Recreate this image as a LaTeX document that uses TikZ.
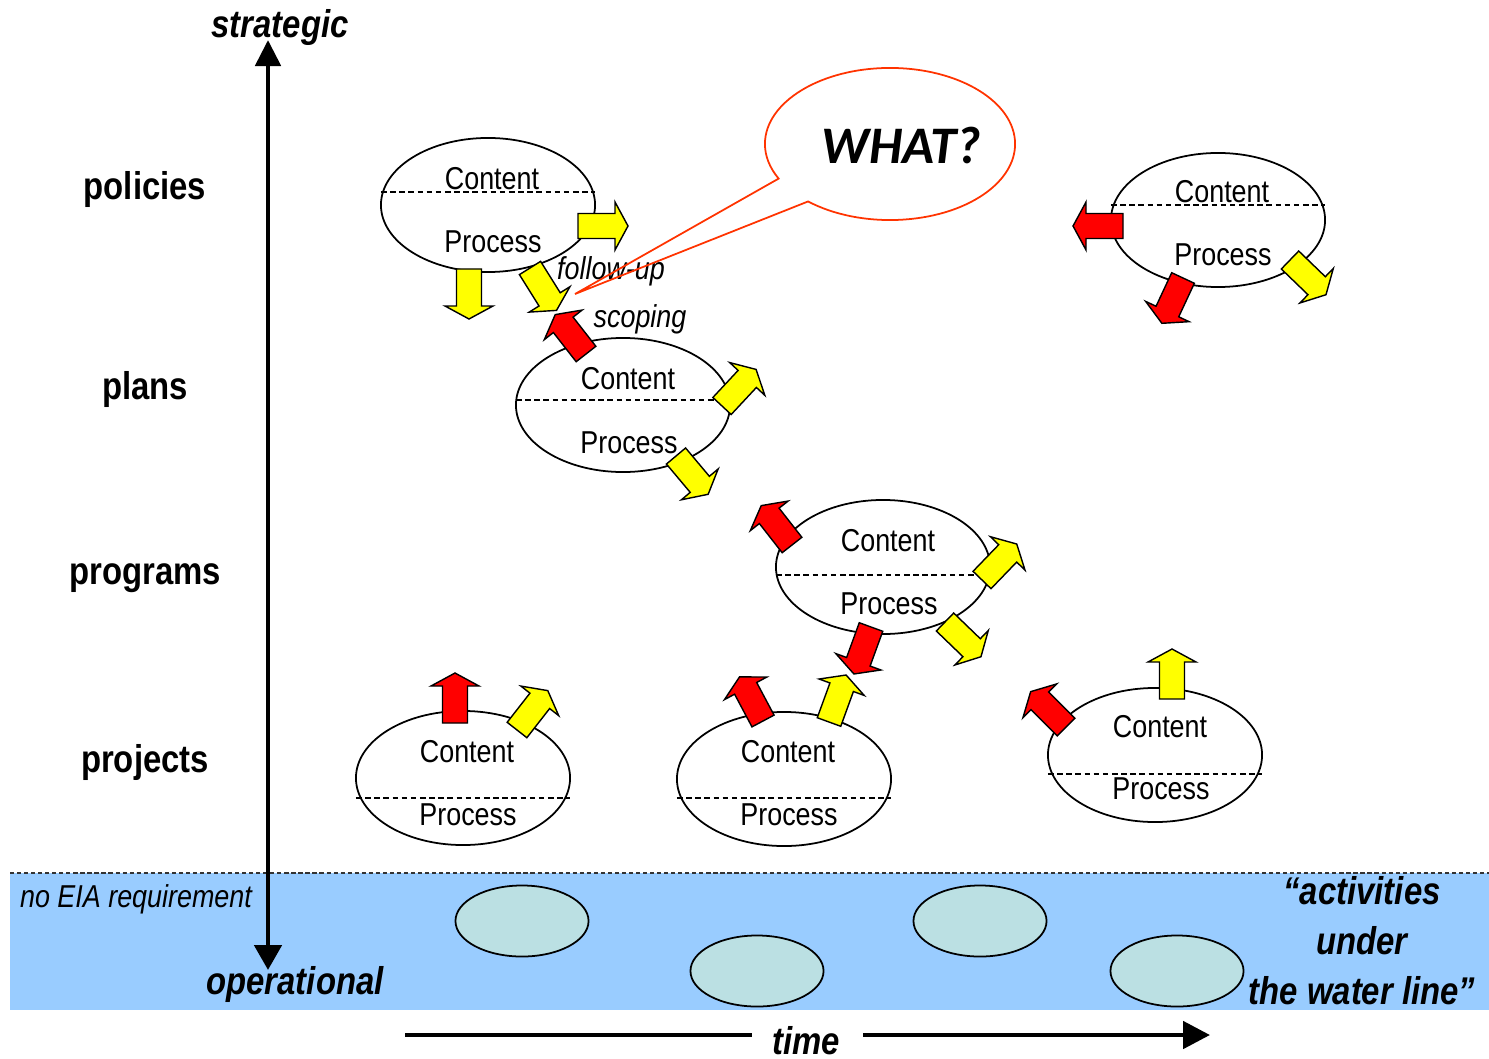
\documentclass[tikz,border=0pt]{standalone}
\usepackage{fontspec}
\setmainfont{Liberation Sans}[FakeStretch=0.85]
\newfontfamily\whatfont{Carlito}
\usetikzlibrary{arrows.meta,calc,shapes.geometric,shapes.callouts}

\definecolor{arrowyellow}{RGB}{255,255,0}
\definecolor{arrowred}{RGB}{255,0,0}
\definecolor{waterblue}{RGB}{153,204,255}
\definecolor{stoneteal}{RGB}{187,224,227}
\definecolor{bubblered}{RGB}{255,51,0}

\tikzset{
  cpellipse/.style={ellipse, draw, line width=0.5pt, fill=white,
    minimum width=2.14cm, minimum height=1.34cm, inner sep=0pt, outer sep=0pt},
  cpdash/.style={line width=0.55pt, dash pattern=on 1.6pt off 1pt},
  cptext/.style={anchor=base, inner sep=0pt, font=\fontsize{9}{11}\selectfont},
  lvltext/.style={inner sep=0pt, font=\fontsize{11}{13}\selectfont\bfseries},
  axtext/.style={inner sep=0pt, font=\fontsize{11}{13}\selectfont\bfseries\itshape},
  notetext/.style={inner sep=0pt, font=\fontsize{9}{11}\selectfont\itshape},
  axisline/.style={line width=1.4pt},
  stone/.style={ellipse, draw, line width=0.5pt, fill=stoneteal,
    minimum width=1.33cm, minimum height=0.71cm, inner sep=0pt},
  yarrow/.pic={\draw[line width=0.4pt, fill=arrowyellow] (0,-12.5) -- (37,-12.5) -- (37,-24)
    -- (50,0) -- (37,24) -- (37,12.5) -- (0,12.5) -- cycle;},
  rarrow/.pic={\draw[line width=0.4pt, fill=arrowred] (0,-12.5) -- (37,-12.5) -- (37,-24)
    -- (50,0) -- (37,24) -- (37,12.5) -- (0,12.5) -- cycle;}
}

\begin{document}
\begin{tikzpicture}[x=0.01cm, y=-0.01cm]
  \useasboundingbox (0,0) rectangle (1489,1058);

  % water line band
  \fill[waterblue] (10,873) rectangle (1489,1010);
  \draw[line width=0.4pt, dash pattern=on 1.2pt off 0.8pt, black!80] (10,873) -- (1489,873);
  \node[stone] (s1) at (522,921) {};
  \node[stone] (s2) at (757,971) {};
  \node[stone] (s3) at (980,921) {};
  \node[stone] (s4) at (1177,971) {};
  \node[notetext] (noeia) at (136,899) {no EIA requirement};
  \node[axtext, align=center, font=\fontsize{11}{14.2}\selectfont\bfseries\itshape]
    (under) at (1362,941) {“activities\\under\\the water line”};

  % levels
  \node[lvltext] (lpol) at (145,190) {policies};
  \node[lvltext] (lpla) at (145,389) {plans};
  \node[lvltext] (lpro) at (145,578) {programs};
  \node[lvltext] (lprj) at (145,762) {projects};

  % axes
  \coordinate (stop) at (268,40);
  \coordinate (sbot) at (268,970);
  \draw[axisline, {Triangle[width=0.25cm,length=0.26cm]}-{Triangle[width=0.27cm,length=0.25cm]}]
    (stop) -- (sbot);
  \node[axtext] (strat) at (280,28) {strategic};
  \node[axtext] (oper) at (295,984) {operational};
  \coordinate (t0) at (405,1035);
  \coordinate (t1) at (752,1035);
  \coordinate (t2) at (863,1035);
  \coordinate (t3) at (1210,1035);
  \draw[axisline] (t0) -- (t1);
  \draw[axisline, -{Triangle[width=0.27cm,length=0.27cm]}] (t2) -- (t3);
  \node[axtext] (time) at (806,1041) {time};

  % content / process ellipses
  \node[cpellipse] (pol1) at (488,205) {};
  \draw[cpdash] ($(pol1.west)+(0,-13)$) -- ($(pol1.east)+(0,-13)$);
  \node[cptext] (pol1c) at ($(pol1)+(4,-15)$) {Content};
  \node[cptext] (pol1p) at ($(pol1)+(5,47)$) {Process};

  \node[cpellipse] (pla) at (623,405) {};
  \draw[cpdash] ($(pla.west)+(0,-5)$) -- ($(pla.east)+(0,-5)$);
  \node[cptext] (plac) at ($(pla)+(5,-16)$) {Content};
  \node[cptext] (plap) at ($(pla)+(6,48)$) {Process};

  \node[cpellipse] (pro) at (883,567) {};
  \draw[cpdash] ($(pro.west)+(0,8)$) -- ($(pro.east)+(0,8)$);
  \node[cptext] (proc) at ($(pro)+(5,-16)$) {Content};
  \node[cptext] (prop) at ($(pro)+(6,47)$) {Process};

  \node[cpellipse] (pol2) at (1218,220) {};
  \draw[cpdash] ($(pol2.west)+(0,-15)$) -- ($(pol2.east)+(0,-15)$);
  \node[cptext] (pol2c) at ($(pol2)+(4,-17)$) {Content};
  \node[cptext] (pol2p) at ($(pol2)+(5,46)$) {Process};

  \node[cpellipse] (prj1) at (463,778) {};
  \draw[cpdash] ($(prj1.west)+(0,20)$) -- ($(prj1.east)+(0,20)$);
  \node[cptext] (prj1c) at ($(prj1)+(4,-16)$) {Content};
  \node[cptext] (prj1p) at ($(prj1)+(5,47)$) {Process};

  \node[cpellipse] (prj2) at (784,779) {};
  \draw[cpdash] ($(prj2.west)+(0,19)$) -- ($(prj2.east)+(0,19)$);
  \node[cptext] (prj2c) at ($(prj2)+(4,-17)$) {Content};
  \node[cptext] (prj2p) at ($(prj2)+(5,46)$) {Process};

  \node[cpellipse] (prj3) at (1155,755) {};
  \draw[cpdash] ($(prj3.west)+(0,19)$) -- ($(prj3.east)+(0,19)$);
  \node[cptext] (prj3c) at ($(prj3)+(5,-18)$) {Content};
  \node[cptext] (prj3p) at ($(prj3)+(6,44)$) {Process};

  % block arrows
  \pic[rotate=0] at (578,226) {yarrow};
  \pic[rotate=-90] at (469,269) {yarrow};
  \pic[rotate=-58] at (530,268) {yarrow};
  \pic[rotate=128] at (586,354) {rarrow};
  \pic[rotate=47] at (722,406) {yarrow};
  \pic[rotate=-50] at (676,456) {yarrow};
  \pic[rotate=128] at (792,545) {rarrow};
  \pic[rotate=46] at (982,580) {yarrow};
  \pic[rotate=-44] at (945,622) {yarrow};
  \pic[rotate=-110] at (871,627) {rarrow};
  \pic[rotate=180] at (1123,226) {rarrow};
  \pic[rotate=-115] at (1183,278) {rarrow};
  \pic[rotate=-44] at (1290,260) {yarrow};
  \pic[rotate=90] at (455,723) {rarrow};
  \pic[rotate=52] at (517,730) {yarrow};
  \pic[rotate=118] at (763,721) {rarrow};
  \pic[rotate=70] at (829,722) {yarrow};
  \pic[rotate=135] at (1066,727) {rarrow};
  \pic[rotate=90] at (1172,699) {yarrow};

  \node[notetext] (fup) at (611,271) {follow-up};
  \node[notetext] (scop) at (640,319) {scoping};

  % speech bubble
  \node[ellipse callout, draw=bubblered, line width=0.5pt, minimum width=2.5cm,
    minimum height=1.52cm, inner sep=0pt, callout absolute pointer={(575,294)},
    callout pointer arc=22] (bubble) at (890,144) {};
  \node[inner sep=0pt, font=\whatfont\fontsize{15}{18}\selectfont\bfseries\itshape]
    (what) at (901,145) {WHAT?};
\end{tikzpicture}
\end{document}
